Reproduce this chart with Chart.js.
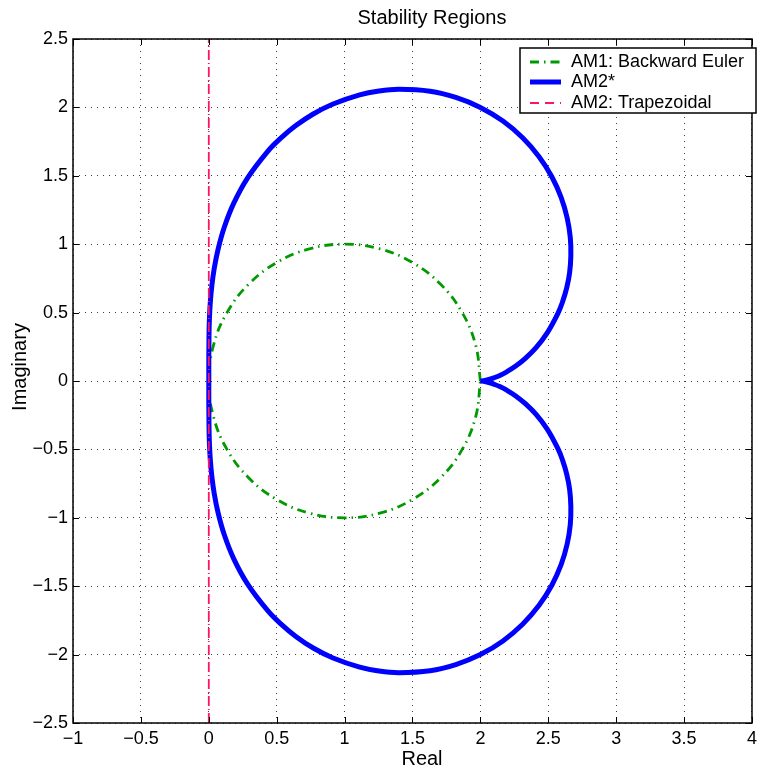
<!DOCTYPE html>
<html>
<head>
<meta charset="utf-8">
<title>Stability Regions</title>
<script src="https://cdn.jsdelivr.net/npm/chart.js@4.4.1/dist/chart.umd.min.js"></script>
<style>
  html, body { margin: 0; padding: 0; background: #fff; }
  #wrap { width: 762px; height: 769px; }
</style>
</head>
<body>
<div id="wrap"><canvas id="stabilityChart" width="762" height="769"></canvas></div>
<script>
// tick labels
const xTicks = [-1, -0.5, 0, 0.5, 1, 1.5, 2, 2.5, 3, 3.5, 4];
const yTicks = [-2.5, -2, -1.5, -1, -0.5, 0, 0.5, 1, 1.5, 2, 2.5];

// AM1: Backward Euler (circle)
const beX = [2, 1.966, 1.866, 1.707, 1.5, 1.259, 1, 0.741, 0.5, 0.293, 0.134, 0.034, 0,
             0.034, 0.134, 0.293, 0.5, 0.741, 1, 1.259, 1.5, 1.707, 1.866, 1.966, 2];
const beY = [0, 0.259, 0.5, 0.707, 0.866, 0.966, 1, 0.966, 0.866, 0.707, 0.5, 0.259, 0,
             -0.259, -0.5, -0.707, -0.866, -0.966, -1, -0.966, -0.866, -0.707, -0.5, -0.259, 0];

// AM2* boundary: upper half from the cusp (2,0) over the top down to the origin
const am2sTopX = [2, 2.015, 2.062, 2.098, 2.143, 2.197, 2.26, 2.331, 2.41, 2.492, 2.571, 2.606,
                  2.636, 2.657, 2.666, 2.662, 2.639, 2.595, 2.526, 2.432, 2.311, 2.166, 2.0,
                  1.819, 1.629, 1.401, 1.253, 1.111, 0.915, 0.769, 0.641, 0.53, 0.434, 0.286,
                  0.183, 0.114, 0.069, 0.04, 0.022, 0.011, 0.005, 0.002, 0.001, 0.0001, 0, 0];
const am2sTopY = [0, 0.001, 0.011, 0.023, 0.041, 0.069, 0.109, 0.166, 0.244, 0.352, 0.495, 0.582,
                  0.682, 0.792, 0.915, 1.049, 1.192, 1.341, 1.493, 1.64, 1.778, 1.9, 2.0,
                  2.073, 2.118, 2.132, 2.12, 2.092, 2.025, 1.952, 1.867, 1.775, 1.679, 1.485,
                  1.298, 1.124, 0.966, 0.823, 0.693, 0.574, 0.465, 0.364, 0.268, 0.176, 0.088, 0];
// lower half from the origin round the bottom back to the cusp
const am2sBotX = [0, 0.0001, 0.001, 0.002, 0.005, 0.011, 0.022, 0.04, 0.069, 0.114, 0.183,
                  0.286, 0.434, 0.53, 0.641, 0.769, 0.915, 1.111, 1.253, 1.401, 1.629, 1.819,
                  2.0, 2.166, 2.311, 2.432, 2.526, 2.595, 2.639, 2.662, 2.666, 2.657, 2.636,
                  2.606, 2.571, 2.492, 2.41, 2.331, 2.26, 2.197, 2.143, 2.098, 2.062, 2.015, 2];
const am2sBotY = [-0.088, -0.176, -0.268, -0.364, -0.465, -0.574, -0.693, -0.823, -0.966, -1.124, -1.298,
                  -1.485, -1.679, -1.775, -1.867, -1.952, -2.025, -2.092, -2.12, -2.132, -2.118, -2.073,
                  -2.0, -1.9, -1.778, -1.64, -1.493, -1.341, -1.192, -1.049, -0.915, -0.792, -0.682,
                  -0.582, -0.495, -0.352, -0.244, -0.166, -0.109, -0.069, -0.041, -0.023, -0.011, -0.001, 0];

// AM2: Trapezoidal (imaginary axis)
const trX = [0, 0];
const trY = [-2.5, 2.5];

const FONT = '"Liberation Sans", Arial, Helvetica, sans-serif';
Chart.defaults.font.family = FONT;
Chart.defaults.color = '#000';

function toPoints(xs, ys) {
  return xs.map((x, i) => ({ x: x, y: ys[i] }));
}

function fmt(v) {
  return v < 0 ? '\u2212' + Math.abs(v) : String(v);
}

// MATLAB look: inner ticks, box, legend, title and axis labels
const matlabFrame = {
  id: 'matlabFrame',
  afterDatasetsDraw(chart) {
    const ctx = chart.ctx;
    const { left, right, top, bottom } = chart.chartArea;
    const xs = chart.scales.x, ys = chart.scales.y;
    ctx.save();
    ctx.strokeStyle = '#000';
    ctx.lineWidth = 1;
    ctx.setLineDash([]);
    ctx.beginPath();
    xTicks.forEach(v => {
      const px = Math.round(xs.getPixelForValue(v)) + 0.5;
      ctx.moveTo(px, bottom); ctx.lineTo(px, bottom - 6);
      ctx.moveTo(px, top); ctx.lineTo(px, top + 6);
    });
    yTicks.forEach(v => {
      const py = Math.round(ys.getPixelForValue(v)) + 0.5;
      ctx.moveTo(left, py); ctx.lineTo(left + 6, py);
      ctx.moveTo(right, py); ctx.lineTo(right - 6, py);
    });
    ctx.stroke();

    ctx.lineWidth = 1.5;
    ctx.strokeRect(left, top, right - left, bottom - top);

    // legend
    const bx = 520, by = 48, bw = 236, bh = 65;
    ctx.fillStyle = '#fff';
    ctx.fillRect(bx, by, bw, bh);
    ctx.lineWidth = 1.5;
    ctx.strokeRect(bx, by, bw, bh);
    const rows = [62, 82, 103];
    ctx.font = '18px ' + FONT;
    ctx.textBaseline = 'middle';
    ctx.textAlign = 'left';
    chart.data.datasets.forEach((ds, i) => {
      ctx.save();
      ctx.strokeStyle = ds.borderColor;
      ctx.lineWidth = ds.borderWidth;
      ctx.setLineDash(ds.legendDash || []);
      ctx.beginPath();
      ctx.moveTo(530, rows[i]);
      ctx.lineTo(561, rows[i]);
      ctx.stroke();
      ctx.restore();
      ctx.fillStyle = '#000';
      ctx.fillText(ds.label, 571, rows[i]);
    });

    // title and axis labels
    ctx.font = '20px ' + FONT;
    ctx.textAlign = 'center';
    ctx.fillText('Stability Regions', 432, 18);
    ctx.fillText('Real', 422, 759);
    ctx.translate(20, 367);
    ctx.rotate(-Math.PI / 2);
    ctx.fillText('Imaginary', 0, 0);
    ctx.restore();
  }
};

const gridOpts = { color: 'rgba(0,0,0,0.75)', lineWidth: 1, drawTicks: false };
const borderOpts = { display: false, dash: [1, 5] };

const ctx = document.getElementById('stabilityChart').getContext('2d');
const stabilityChart = new Chart(ctx, {
  type: 'line',
  data: {
    datasets: [
      {
        label: 'AM1: Backward Euler',
        data: toPoints(beX, beY),
        borderColor: '#009a00',
        borderWidth: 2.8,
        borderDash: [9, 5, 1.5, 5],
        legendDash: [9, 5, 1.5, 5],
        tension: 0.4,
        fill: false,
        order: 2,
      },
      {
        label: 'AM2*',
        data: toPoints(am2sTopX.concat(am2sBotX), am2sTopY.concat(am2sBotY)),
        borderColor: '#0000ff',
        borderWidth: 5,
        tension: 0.4,
        fill: false,
        order: 1,
      },
      {
        label: 'AM2: Trapezoidal',
        data: toPoints(trX, trY),
        borderColor: 'rgb(255,20,100)',
        borderWidth: 1.8,
        borderDash: [10, 3, 1, 3],
        legendDash: [9, 6],
        tension: 0,
        fill: false,
        order: 0,
      },
    ],
  },
  options: {
    responsive: false,
    animation: false,
    layout: { padding: { left: 0, top: 39, right: 5, bottom: 0 } },
    elements: { point: { radius: 0, hoverRadius: 0 }, line: { capBezierPoints: false } },
    plugins: {
      legend: { display: false },
      tooltip: { enabled: false },
      title: { display: false },
    },
    scales: {
      x: {
        type: 'linear',
        min: -1,
        max: 4,
        afterBuildTicks: s => { s.ticks = xTicks.map(v => ({ value: v })); },
        afterFit: s => { s.height = 46; },
        ticks: { font: { size: 18 }, padding: 5, maxRotation: 0, callback: fmt },
        grid: gridOpts,
        border: borderOpts,
      },
      y: {
        type: 'linear',
        min: -2.5,
        max: 2.5,
        afterBuildTicks: s => { s.ticks = yTicks.map(v => ({ value: v })); },
        afterFit: s => { s.width = 73; },
        ticks: { font: { size: 18 }, padding: 5, callback: fmt },
        grid: gridOpts,
        border: borderOpts,
      },
    },
  },
  plugins: [matlabFrame],
});
</script>
</body>
</html>
